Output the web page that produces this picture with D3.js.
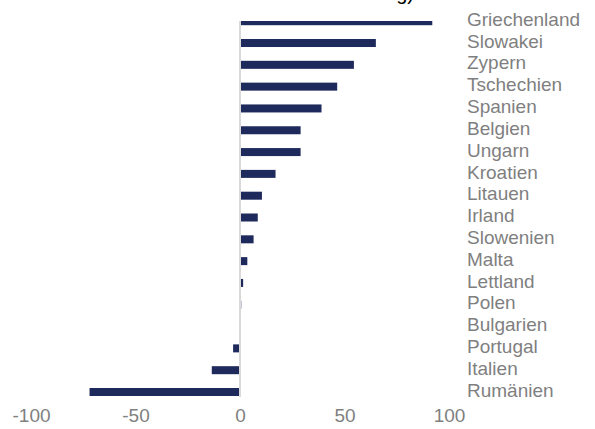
<!DOCTYPE html>
<html>
<head>
<meta charset="utf-8">
<script src="https://cdn.jsdelivr.net/npm/d3@7"></script>
<style>
  body { margin: 0; background: #fff; }
  text { font-family: "Liberation Sans", Arial, sans-serif; }
</style>
</head>
<body>
<div id="chart"></div>
<script>
// countries, top to bottom
const countries = ["Griechenland", "Slowakei", "Zypern", "Tschechien", "Spanien", "Belgien",
  "Ungarn", "Kroatien", "Litauen", "Irland", "Slowenien", "Malta", "Lettland", "Polen",
  "Bulgarien", "Portugal", "Italien", "Rumänien"];
const values = [92, 65, 54.5, 46.5, 39, 29, 29, 17, 10.5, 8.5, 6.5, 3.5, 1.5, 0.6,
  0, -3.3, -13.5, -72];
const xTicks = [-100, -50, 0, 50, 100];

const width = 595, height = 429;
const barColor = "#1f2a5c";
const labelColor = "#7f7f7f";

const svg = d3.select("#chart").append("svg")
  .attr("width", width)
  .attr("height", height);

// title is cut off at the top edge, only the descenders show
svg.append("text")
  .attr("x", 414)
  .attr("y", 0)
  .attr("text-anchor", "end")
  .style("font-size", "20px")
  .style("fill", "#000")
  .text("in % der Bewertung)");

const plotTop = 21;
const x = d3.scaleLinear().domain([-100, 100]).range([31, 449]);
const y = d3.scalePoint().domain(countries).range([21.2, 392]);
const barH = 8;

svg.append("clipPath").attr("id", "plotClip")
  .append("rect")
  .attr("x", 0).attr("y", plotTop)
  .attr("width", width).attr("height", 400 - plotTop);

const plot = svg.append("g").attr("clip-path", "url(#plotClip)");

plot.selectAll(".bar")
  .data(countries)
  .enter().append("rect")
  .attr("class", "bar")
  .attr("x", (d, i) => x(Math.min(0, values[i])))
  .attr("y", d => y(d) - barH / 2)
  .attr("width", (d, i) => Math.abs(x(values[i]) - x(0)))
  .attr("height", barH)
  .style("fill", barColor);

// zero line
svg.append("line")
  .attr("x1", x(0)).attr("x2", x(0))
  .attr("y1", plotTop).attr("y2", 397)
  .style("stroke", "#d9d9d9")
  .style("stroke-width", 2);

// country labels on the right
svg.selectAll(".label")
  .data(countries)
  .enter().append("text")
  .attr("class", "label")
  .attr("x", 467)
  .attr("y", d => y(d) - 2)
  .attr("dy", "0.35em")
  .style("font-size", "19px")
  .style("fill", labelColor)
  .text(d => d);

// x axis labels, plain hyphen for negatives
const xAxis = d3.axisBottom(x).tickValues(xTicks).tickSize(0).tickPadding(0)
  .tickFormat(d => String(d));
const gx = svg.append("g")
  .attr("transform", "translate(0,408)")
  .call(xAxis);
gx.select(".domain").remove();
gx.selectAll("text")
  .style("font-size", "19px")
  .style("font-family", "'Liberation Sans', Arial, sans-serif")
  .style("fill", labelColor);
</script>
</body>
</html>
